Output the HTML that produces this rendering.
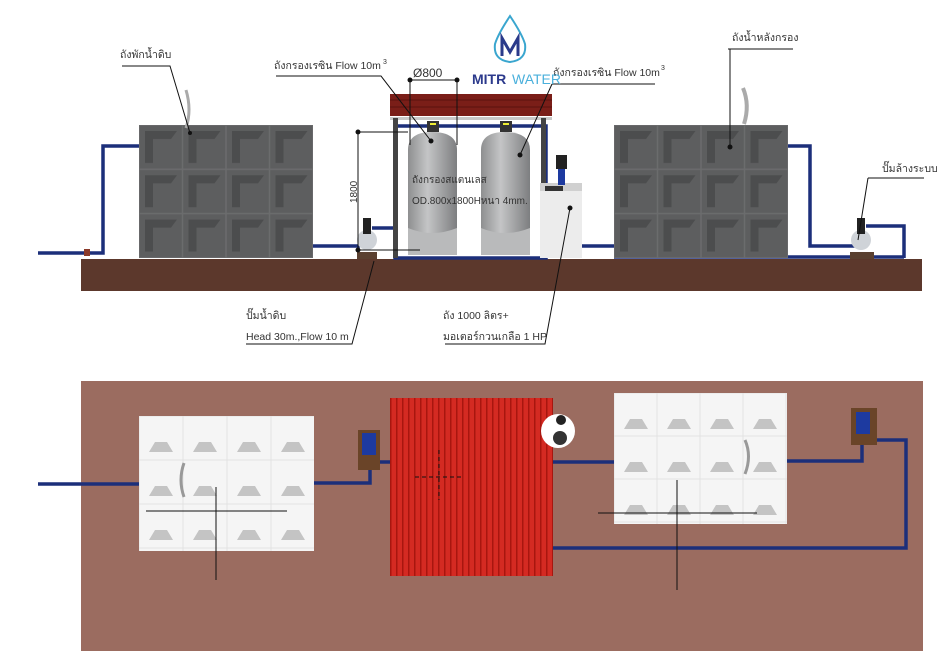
<!DOCTYPE html>
<html><head><meta charset="utf-8"><style>
body{margin:0;background:#fff;}
svg{display:block;}
text{font-family:"Liberation Sans","Noto Sans CJK SC",sans-serif;font-size:10.5px;fill:#333;}
</style></head><body>
<svg width="939" height="652" viewBox="0 0 939 652" xmlns="http://www.w3.org/2000/svg">
<defs>
<linearGradient id="cyl" x1="0" x2="1"><stop offset="0" stop-color="#8e8f90"/><stop offset="0.4" stop-color="#c4c5c6"/><stop offset="1" stop-color="#7d7e80"/></linearGradient>
<pattern id="panel" width="43.5" height="44.3" patternUnits="userSpaceOnUse" x="139" y="125">
<rect width="43.5" height="44.3" fill="#5d5e5f"/>
<path d="M6 6 H38 L32 14 H14 V38 L6 38Z" fill="#4c4d4e"/>
<rect x="0" y="0" width="43.5" height="44.3" fill="none" stroke="#6b6c6d" stroke-width="1.5"/>
</pattern>
<pattern id="panel2" width="43.5" height="44.3" patternUnits="userSpaceOnUse" x="614" y="125">
<rect width="43.5" height="44.3" fill="#5d5e5f"/>
<path d="M6 6 H38 L32 14 H14 V38 L6 38Z" fill="#4c4d4e"/>
<rect x="0" y="0" width="43.5" height="44.3" fill="none" stroke="#6b6c6d" stroke-width="1.5"/>
</pattern>
<pattern id="wp" width="44" height="44" patternUnits="userSpaceOnUse" x="139" y="416">
<rect width="44" height="44" fill="#f5f5f5"/>
<path d="M10 36 L16 26 H28 L34 36Z" fill="#c4c4c4"/>
<rect width="44" height="44" fill="none" stroke="#e2e2e2"/>
</pattern>
<pattern id="wp2" width="43" height="43" patternUnits="userSpaceOnUse" x="614" y="393">
<rect width="43" height="43" fill="#f5f5f5"/>
<path d="M10 36 L16 26 H28 L34 36Z" fill="#c4c4c4"/>
<rect width="43" height="43" fill="none" stroke="#e2e2e2"/>
</pattern>
<pattern id="roof" width="6" height="10" patternUnits="userSpaceOnUse">
<rect width="6" height="10" fill="#d42a22"/><rect width="1.5" height="10" fill="#a8160f"/>
</pattern>
</defs>

<!-- ===== TOP ELEVATION ===== -->
<rect x="81" y="259" width="841" height="32" fill="#5c382c"/>
<g fill="none" stroke="#1c2f7a" stroke-width="3.5">
<path d="M38 253 H103 V146 H139"/>
<path d="M312 246 H360"/>
<path d="M372 228 H395"/>
<path d="M395 126 V258 H546 V126 H395"/>
<path d="M546 246 H614"/>
<path d="M787 146 H810 V246 H860"/>
<path d="M866 226 H904 V258"/>
<path d="M614 257 H904"/>
</g>
<rect x="84" y="249" width="6" height="7" fill="#8a3a2a"/>
<rect x="139" y="125" width="174" height="133" fill="url(#panel)"/>
<path d="M186 90 Q192 110 186 128" stroke="#aaa" stroke-width="3" fill="none"/>
<rect x="614" y="125" width="174" height="133" fill="url(#panel2)"/>
<path d="M743 88 Q750 105 744 124" stroke="#aaa" stroke-width="4" fill="none"/>
<rect x="390" y="94" width="162" height="22" fill="#7a1e18"/>
<g stroke="#5a120e" stroke-width="1"><line x1="390" y1="100" x2="552" y2="100"/><line x1="390" y1="107" x2="552" y2="107"/></g>
<rect x="390" y="117" width="162" height="3" fill="#c9c9c9"/>
<rect x="393" y="118" width="5" height="140" fill="#444"/>
<rect x="541" y="118" width="5" height="140" fill="#444"/>
<path d="M408 255 V150 Q408 132 432 132 Q457 132 457 150 V255Z" fill="url(#cyl)"/>
<path d="M481 255 V150 Q481 132 505 132 Q530 132 530 150 V255Z" fill="url(#cyl)"/>
<path d="M408 228 Q432 238 457 228 V255 H408Z" fill="#b9babb"/>
<path d="M481 228 Q505 238 530 228 V255 H481Z" fill="#b9babb"/>
<rect x="427" y="121" width="12" height="11" fill="#333"/><rect x="430" y="123" width="6" height="2" fill="#ee3"/>
<rect x="500" y="121" width="12" height="11" fill="#333"/><rect x="503" y="123" width="6" height="2" fill="#ee3"/>
<rect x="540" y="183" width="42" height="75" fill="#ececec"/>
<rect x="540" y="183" width="42" height="8" fill="#d0d0d0"/>
<rect x="545" y="186" width="18" height="5" fill="#333"/>
<rect x="556" y="155" width="11" height="14" fill="#222"/>
<rect x="558" y="169" width="7" height="16" fill="#1d3aa0"/>
<rect x="357" y="252" width="20" height="7" fill="#5a4030"/>
<ellipse cx="367" cy="240" rx="10" ry="10" fill="#cfd3d8"/><rect x="363" y="218" width="8" height="16" fill="#222"/>
<rect x="850" y="252" width="24" height="7" fill="#5a4030"/>
<ellipse cx="861" cy="240" rx="10" ry="10" fill="#cfd3d8"/><rect x="857" y="218" width="8" height="16" fill="#222"/>
<g stroke="#111" stroke-width="1" fill="none">
<line x1="358" y1="132" x2="358" y2="250"/><line x1="358" y1="132" x2="408" y2="132"/>
<line x1="358" y1="250" x2="420" y2="250"/>
<line x1="410" y1="80" x2="457" y2="80"/><line x1="410" y1="80" x2="410" y2="145"/><line x1="457" y1="80" x2="457" y2="145"/>
<path d="M122 66 H170 L190 133"/>
<path d="M276 76 H381 L431 141"/>
<path d="M552 84 H655"/><path d="M552 84 L520 155"/>
<path d="M728 49 H793"/><path d="M730 49 V147"/>
<path d="M868 178 H924"/><path d="M868 178 L858 240"/>
<path d="M246 344 H352 L374 261"/>
<path d="M445 344 H545 L570 208"/>
</g>
<g fill="#111"><circle cx="358" cy="132" r="2.5"/><circle cx="358" cy="250" r="2.5"/><circle cx="410" cy="80" r="2.5"/><circle cx="457" cy="80" r="2.5"/>
<circle cx="431" cy="141" r="2.5"/><circle cx="520" cy="155" r="2.5"/><circle cx="730" cy="147" r="2.5"/><circle cx="570" cy="208" r="2.5"/><circle cx="190" cy="133" r="2"/></g>
<text x="120" y="58">ถังพักน้ำดิบ</text>
<text x="274" y="69">ถังกรองเรซิน Flow 10m</text><text x="383" y="64" style="font-size:7px">3</text>
<text x="413" y="77" style="font-size:12px">Ø800</text>
<text x="553" y="76">ถังกรองเรซิน Flow 10m</text><text x="661" y="70" style="font-size:7px">3</text>
<text x="732" y="41">ถังน้ำหลังกรอง</text>
<text x="882" y="172">ปั๊มล้างระบบ</text>
<text x="412" y="183" style="font-size:10px">ถังกรองสแตนเลส</text>
<text x="412" y="204" style="font-size:10px">OD.800x1800Hหนา 4mm.</text>
<text x="0" y="0" transform="translate(357,203) rotate(-90)" style="font-size:10px">1800</text>
<text x="246" y="319">ปั๊มน้ำดิบ</text>
<text x="246" y="340">Head 30m.,Flow 10 m</text>
<text x="443" y="319">ถัง 1000 ลิตร+</text>
<text x="443" y="340">มอเตอร์กวนเกลือ 1 HP</text>
<!-- logo -->
<path d="M510 16 Q498 34 495 44 Q493 60 510 62 Q527 60 525 44 Q522 34 510 16Z" fill="none" stroke="#3aa6cf" stroke-width="2"/>
<path d="M502 56 V38 L510 52 L518 38 V56" fill="none" stroke="#2a3a8a" stroke-width="3"/>
<text x="472" y="84" style="font-size:14px;font-weight:bold;fill:#2c3a8c">MITR</text>
<text x="512" y="84" style="font-size:14px;fill:#4ab0dc">WATER</text>

<!-- ===== PLAN VIEW ===== -->
<rect x="81" y="381" width="842" height="270" fill="#9b6c60"/>
<g fill="none" stroke="#1c2f7a" stroke-width="3.5">
<path d="M38 484 H139"/>
<path d="M314 483 H370 V462"/>
<path d="M372 462 H390"/>
<path d="M552 462 H614"/>
<path d="M787 461 H862 V444"/>
<path d="M866 440 H906 V548 H552"/>
</g>
<rect x="139" y="416" width="175" height="135" fill="url(#wp)"/>
<rect x="614" y="393" width="173" height="131" fill="url(#wp2)"/>
<path d="M184 463 Q178 480 184 497" stroke="#999" stroke-width="3" fill="none"/>
<path d="M745 440 Q752 456 745 474" stroke="#999" stroke-width="3" fill="none"/>
<rect x="390" y="398" width="163" height="178" fill="url(#roof)"/>
<circle cx="558" cy="431" r="17" fill="#fff"/><circle cx="560" cy="438" r="7" fill="#333"/><circle cx="561" cy="420" r="5" fill="#222"/>
<rect x="358" y="430" width="22" height="40" fill="#6a4428"/><rect x="362" y="433" width="14" height="22" fill="#1d3aa0"/>
<rect x="851" y="408" width="26" height="37" fill="#6a4428"/><rect x="856" y="412" width="14" height="22" fill="#1d3aa0"/>
<g stroke="#111" stroke-width="1">
<line x1="216" y1="487" x2="216" y2="580"/><line x1="146" y1="511" x2="287" y2="511"/>
<line x1="677" y1="480" x2="677" y2="590"/><line x1="598" y1="513" x2="757" y2="513"/>
<line x1="439" y1="450" x2="439" y2="500" stroke-dasharray="4 3"/><line x1="415" y1="477" x2="464" y2="477" stroke-dasharray="4 3"/>
</g>
</svg>
</body></html>
